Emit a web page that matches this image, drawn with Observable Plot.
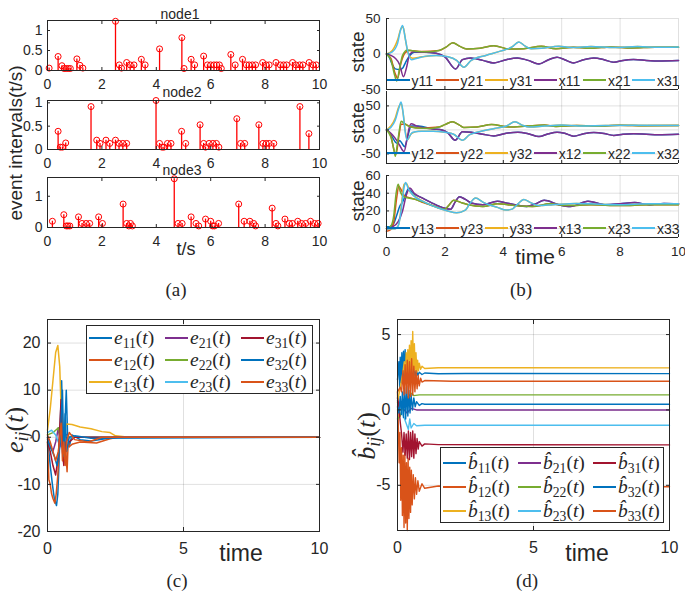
<!DOCTYPE html>
<html><head><meta charset="utf-8">
<script src="https://cdn.jsdelivr.net/npm/d3@7"></script>
<script src="https://cdn.jsdelivr.net/npm/@observablehq/plot@0.6"></script>
<style>
body{margin:0;background:#fff;}
#wrap{position:relative;width:685px;height:595px;overflow:hidden;font-family:"Liberation Sans",Arial,sans-serif;color:#262626;background:#fff;}
.abs{position:absolute;white-space:nowrap;line-height:1;}
.serif{font-family:"Liberation Serif","DejaVu Serif",serif;}
.sub{font-size:0.7em;position:relative;top:0.3em;font-style:normal;}
</style></head><body><div id="wrap"></div>
<script>
// ---------- DATA ----------
const xTicksA = [0, 2, 4, 6, 8, 10];
const xTicksCD = [0, 5, 10];
// (a) event intervals: [time, interval]
const node1Events = [[0.06,0.06],[0.39,0.35],[0.53,0.12],[0.61,0.05],[0.69,0.05],[0.77,0.05],[0.84,0.05],[1.08,0.29],[1.19,0.13],[1.30,0.06],[2.50,1.23],[2.64,0.14],[2.72,0.06],[2.91,0.2],[3.04,0.14],[3.18,0.14],[3.45,0.28],[3.59,0.14],[4.12,0.54],[4.94,0.82],[5.02,0.05],[5.28,0.28],[5.41,0.14],[5.74,0.36],[5.88,0.14],[6.00,0.14],[6.12,0.14],[6.22,0.14],[6.32,0.14],[6.39,0.05],[6.74,0.4],[6.90,0.14],[7.17,0.28],[7.31,0.14],[7.41,0.14],[7.53,0.14],[7.65,0.14],[7.91,0.2],[8.04,0.14],[8.15,0.14],[8.40,0.2],[8.56,0.14],[8.68,0.14],[8.79,0.14],[9.01,0.2],[9.13,0.14],[9.27,0.14],[9.39,0.14],[9.62,0.2],[9.76,0.14],[9.88,0.14]];
const node2Events = [[0.39,0.39],[0.47,0.05],[0.55,0.05],[0.67,0.14],[1.60,0.92],[1.81,0.2],[1.93,0.13],[2.15,0.2],[2.29,0.13],[2.50,0.2],[2.63,0.13],[2.77,0.13],[2.91,0.13],[3.99,1.05],[4.12,0.13],[4.21,0.05],[4.28,0.05],[4.41,0.13],[4.54,0.13],[4.93,0.39],[5.08,0.13],[5.61,0.53],[5.74,0.13],[5.81,0.05],[5.94,0.13],[6.08,0.13],[6.21,0.13],[6.30,0.05],[6.96,0.66],[7.10,0.13],[7.25,0.13],[7.77,0.53],[7.92,0.13],[8.04,0.13],[8.15,0.13],[8.32,0.13],[9.28,0.92],[9.61,0.34]];
const node3Events = [[0.18,0.2],[0.60,0.41],[0.69,0.05],[0.75,0.05],[0.82,0.05],[1.14,0.34],[1.27,0.13],[1.42,0.13],[1.55,0.13],[1.88,0.34],[2.02,0.13],[2.78,0.75],[2.91,0.13],[2.99,0.05],[3.05,0.13],[3.12,0.05],[4.66,1.56],[4.80,0.13],[4.95,0.13],[5.28,0.34],[5.46,0.13],[5.56,0.05],[5.81,0.27],[6.00,0.2],[6.07,0.05],[6.14,0.05],[6.29,0.13],[7.03,0.75],[7.23,0.2],[7.44,0.2],[7.58,0.13],[7.65,0.05],[8.26,0.62],[8.40,0.13],[8.47,0.05],[8.73,0.27],[8.89,0.13],[9.00,0.13],[9.20,0.2],[9.34,0.13],[9.49,0.13],[9.67,0.2],[9.82,0.13],[9.95,0.13]];

// (b) states: [time, value]
const x11 = [[0,0],[0.15,-2],[0.3,-6],[0.45,-15],[0.58,-32],[0.68,-20],[0.8,0],[0.95,3],[1.3,2.5],[1.7,1],[2.0,-4],[2.37,-21],[2.6,-8],[2.88,-5.6],[3.3,-9],[3.68,-12.6],[4.1,-8],[4.48,-5.6],[4.85,-9],[5.22,-14],[5.55,-8],[5.84,-4.7],[6.1,-8],[6.41,-12.6],[6.75,-8],[7.1,-5.6],[7.45,-8],[7.78,-11.7],[8.1,-9],[8.46,-7.9],[8.9,-9],[9.3,-10],[10,-9.3]];
const x21 = [[0,0],[0.15,-8],[0.28,-30],[0.35,-38],[0.45,-20],[0.55,-2],[0.72,5.6],[1.0,4],[1.4,3],[1.8,5],[2.05,10],[2.27,16],[2.5,11],[2.75,7],[3.2,8],[3.68,11.7],[4.2,7],[4.7,7.5],[5.3,11],[5.8,7.5],[6.4,9.5],[7.0,8],[7.7,10],[8.4,8.5],[9.2,9.5],[10,9.5]];
const x31 = [[0,0],[0.2,3],[0.38,15],[0.47,32],[0.55,40],[0.63,25],[0.72,5],[0.85,-8],[1.05,-6],[1.35,-3],[1.7,-2],[2.1,-4],[2.4,-9],[2.65,-18.7],[2.9,-9],[3.4,-2],[3.9,4],[4.3,10],[4.53,17],[4.75,11],[4.95,7.5],[5.3,8],[5.9,11],[6.4,9],[7.0,10.5],[7.8,9],[8.6,10.5],[9.3,9.5],[10,10]];
const y11Head = [[0,0],[0.1,-5],[0.2,-15],[0.3,-21],[0.45,-22],[0.55,-20],[0.65,-12],[0.8,-2],[0.95,2.5],[1.3,2.5]];
const y21Head = [[0,0],[0.15,-6],[0.3,-28],[0.38,-34],[0.5,-12],[0.65,2],[0.8,5],[1.2,3.5]];
const y31Head = [[0,0],[0.2,5],[0.38,20],[0.5,36],[0.57,38],[0.65,20],[0.75,0],[0.9,-6],[1.2,-4]];

const x12 = [[0,0],[0.2,-10],[0.35,-22],[0.45,-32],[0.6,-45],[0.7,-20],[0.78,5],[0.85,13],[1.0,9],[1.3,4],[1.6,2],[1.9,0],[2.1,-6],[2.35,-21.5],[2.6,-4],[2.9,-5],[3.3,-9],[3.68,-12.5],[4.1,-7],[4.5,-5],[4.85,-8],[5.22,-14],[5.55,-8],[5.84,-5],[6.1,-7],[6.41,-13],[6.75,-8],[7.1,-5.5],[7.45,-7.5],[7.78,-11.5],[8.1,-9],[8.46,-8],[8.9,-9],[9.3,-10],[10,-9]];
const x22 = [[0,0],[0.15,-15],[0.25,-40],[0.3,-55],[0.37,-30],[0.43,-5],[0.5,18],[0.6,14],[0.75,8],[1.0,4],[1.5,3],[1.8,6],[2.0,11],[2.25,17],[2.5,10],[2.65,5],[3.1,6],[3.6,11],[4.2,6],[4.8,8],[5.4,10],[5.8,7],[6.5,9],[7.2,8],[8.0,9.5],[8.8,8.5],[10,9]];
const x32 = [[0,0],[0.15,5],[0.3,20],[0.42,45],[0.5,58],[0.57,35],[0.63,0],[0.7,-21],[0.8,-12],[0.9,-5],[1.2,-3],[1.6,-3],[2.0,-5],[2.3,-9],[2.6,-21.5],[2.85,-10],[3.1,-5],[3.7,3],[4.1,8],[4.4,17],[4.65,10],[4.9,6],[5.4,8],[6.0,10],[6.6,8],[7.5,9],[8.5,9.5],[10,9]];
const y12Head = [[0,0],[0.1,-6],[0.2,-15],[0.3,-25],[0.38,-28],[0.45,-22],[0.55,-30],[0.62,-35],[0.72,-15],[0.85,8],[1.1,8]];
const y22Head = [[0,0],[0.15,-12],[0.27,-45],[0.33,-50],[0.42,-15],[0.5,12],[0.62,12],[0.8,7],[1.1,4]];
const y32Head = [[0,0],[0.15,8],[0.3,25],[0.42,48],[0.5,55],[0.58,30],[0.65,-5],[0.72,-20],[0.85,-8],[1.1,-3]];

const x13 = [[0,0],[0.2,2],[0.4,8],[0.55,20],[0.68,38],[0.8,46],[0.95,40],[1.2,35],[1.5,30],[2.0,23],[2.2,22],[2.35,30],[2.5,36],[2.7,33],[2.9,29],[3.3,27],[3.8,31],[4.1,29],[4.4,27],[4.8,25],[5.1,28],[5.4,32],[5.9,27],[6.3,25],[6.9,31],[7.5,27],[8.0,28],[8.5,29.5],[9.0,27],[9.5,28.5],[10,28]];
const x23 = [[0,0],[0.15,3],[0.25,15],[0.33,40],[0.4,50],[0.47,42],[0.6,36],[1.0,33],[1.5,27],[2.0,22],[2.15,27],[2.3,32],[2.6,29],[2.8,27],[3.3,25],[3.8,28],[4.4,26],[5.0,25],[5.6,28],[6.2,26],[7.0,27],[8.0,26],[9.0,27],[10,27]];
const x33 = [[0,0],[0.3,0],[0.4,3],[0.5,20],[0.58,42],[0.65,52],[0.75,45],[0.9,38],[1.3,30],[1.8,23],[2.1,20],[2.4,18],[2.7,21],[2.85,28],[3.05,34.5],[3.3,30],[3.5,27],[3.8,24],[4.1,21],[4.3,22],[4.5,28],[4.7,33],[4.9,30],[5.2,26],[5.7,27],[6.5,28.5],[7.0,28],[8.0,27],[9.0,28],[10,28]];
const y13Head = [[0,2],[0.1,2],[0.25,6],[0.35,15],[0.45,25],[0.55,30],[0.65,38],[0.75,45],[0.9,40],[1.2,35]];
const y23Head = [[0,-3],[0.15,-1],[0.25,8],[0.35,35],[0.42,48],[0.5,44],[0.62,37],[1.0,33],[1.2,30]];
const y33Head = [[0,0],[0.3,0],[0.42,5],[0.52,30],[0.6,50],[0.68,51],[0.8,42],[1.0,36]];

// (c) errors
const e11 = [[0,0],[0.05,-3],[0.1,-6],[0.18,-10],[0.25,-13],[0.33,-14.5],[0.38,-12],[0.42,-6],[0.47,3],[0.52,12],[0.56,2],[0.6,-4],[0.65,4],[0.69,10],[0.74,0],[0.8,-2],[0.9,0.5],[1.2,-0.5],[1.6,-0.8],[2.0,-0.4],[2.5,0],[10,0]];
const e12 = [[0,-1],[0.05,-9],[0.1,-10],[0.15,-12],[0.2,-13],[0.27,-14],[0.32,-12],[0.38,-8],[0.43,-2],[0.48,2],[0.5,8],[0.55,-2],[0.6,-5],[0.65,-1],[0.72,-7.3],[0.76,-1],[0.8,-2],[0.9,-1.5],[1.2,-1],[1.8,-1.2],[2.3,-0.3],[2.6,0],[10,0]];
const e13 = [[0,1.5],[0.1,6],[0.2,12],[0.3,18],[0.38,19.5],[0.45,15],[0.5,6],[0.55,0],[0.6,1],[0.7,2.8],[0.9,2.7],[1.2,2.2],[1.6,1.8],[2.0,1.2],[2.3,1.0],[2.5,0.3],[3,0],[10,0]];
const e21 = [[0,0],[0.1,-2],[0.2,-3],[0.3,-1],[0.4,2],[0.5,-2],[0.6,1],[0.8,0],[10,0]];
const e22 = [[0,0.5],[0.2,1],[0.3,1.5],[0.4,2],[0.5,-1],[0.6,0.5],[0.8,0],[10,0]];
const e23 = [[0,1],[0.15,1.5],[0.3,0.5],[0.4,-1],[0.5,1],[0.7,0],[10,0]];
const e31 = [[0,-1],[0.1,-3],[0.2,-6],[0.3,-8],[0.4,-4],[0.5,8],[0.55,-3],[0.6,-6],[0.7,0],[0.8,-1],[1,0],[10,0]];
const e32 = [[0,-0.5],[0.1,-2],[0.25,-4],[0.35,-6],[0.45,-2],[0.55,10],[0.6,-4],[0.65,5],[0.7,-3],[0.8,0],[1,0.3],[1.6,-0.2],[10,0]];
const e33 = [[0,0.5],[0.1,-1],[0.2,-3],[0.3,-5],[0.4,-3],[0.5,3],[0.55,-5],[0.6,-1],[0.65,-6],[0.7,-1],[0.8,1],[1,-0.5],[1.5,-1],[2,0],[10,0]];

// (d) estimates
const b11 = [[0,2.0],[0.05,3.2],[0.08,1.5],[0.1,3.5],[0.13,1.8],[0.16,3.8],[0.19,2.0],[0.22,3.9],[0.25,2.2],[0.28,4.0],[0.31,2.5],[0.34,3.6],[0.37,1.8],[0.4,3.4],[0.43,2.0],[0.46,3.0],[0.5,2.0],[0.54,2.9],[0.58,2.1],[0.62,2.7],[0.66,2.2],[0.7,2.6],[0.75,2.3],[0.8,2.5],[0.9,2.35],[1.0,2.45],[1.5,2.4],[2.5,2.42],[10,2.41]];
const b12 = [[0,1.2],[0.03,-1.0],[0.06,-3.5],[0.09,-1.5],[0.12,-6.0],[0.15,-2.5],[0.18,-7.0],[0.21,-3.0],[0.24,-7.8],[0.27,-2.8],[0.3,-7.5],[0.33,-3.5],[0.36,-8.0],[0.39,-3.2],[0.42,-7.2],[0.45,-3.8],[0.48,-6.8],[0.51,-4.0],[0.54,-6.3],[0.58,-4.3],[0.62,-5.9],[0.66,-4.5],[0.7,-5.6],[0.75,-4.7],[0.8,-5.4],[0.9,-4.9],[1.0,-5.2],[1.5,-5.05],[10,-5.1]];
const b13 = [[0,0.5],[0.1,1.5],[0.2,2.5],[0.25,3.2],[0.28,2.0],[0.32,3.8],[0.35,2.2],[0.38,4.0],[0.41,2.4],[0.44,4.3],[0.47,2.1],[0.5,4.6],[0.53,2.5],[0.56,5.2],[0.59,2.3],[0.62,4.4],[0.65,2.6],[0.68,3.8],[0.71,2.5],[0.74,3.3],[0.77,2.6],[0.8,3.1],[0.85,2.7],[0.9,2.9],[1.0,2.75],[1.5,2.8],[10,2.79]];
const b21 = [[0,0.6],[0.1,0.3],[0.2,0.1],[0.35,-0.2],[0.5,0.1],[0.7,0],[10,0]];
const b22 = [[0,-0.6],[0.1,-0.4],[0.2,0.2],[0.3,0.7],[0.4,0.9],[0.5,1.1],[0.6,0.95],[0.8,1.0],[10,1.0]];
const b23 = [[0,0],[0.1,0.3],[0.2,-0.3],[0.3,-0.8],[0.4,-1.3],[0.45,-0.6],[0.5,-1.2],[0.6,-0.9],[0.7,-1.05],[1,-1.02],[10,-1.02]];
const b31 = [[0,0.8],[0.05,0.2],[0.1,-0.8],[0.15,-1.6],[0.2,-2.8],[0.24,-1.5],[0.28,-3.0],[0.32,-1.6],[0.36,-3.2],[0.4,-1.4],[0.44,-3.3],[0.48,-1.5],[0.52,-3.1],[0.56,-1.4],[0.6,-3.2],[0.64,-1.6],[0.68,-2.9],[0.72,-1.9],[0.76,-2.6],[0.8,-2.1],[0.9,-2.4],[1.0,-2.25],[1.5,-2.3],[10,-2.32]];
const b32 = [[0,0.2],[0.05,-0.2],[0.1,0.9],[0.14,-0.3],[0.18,1.2],[0.22,-0.5],[0.26,1.5],[0.3,-0.6],[0.34,1.6],[0.38,-0.4],[0.42,1.3],[0.46,-0.2],[0.5,1.0],[0.55,0.0],[0.6,0.8],[0.65,0.2],[0.7,0.55],[0.8,0.3],[0.9,0.42],[1.0,0.38],[10,0.38]];
const b33 = [[0,1.2],[0.1,1.5],[0.15,1.2],[0.2,2.6],[0.24,1.0],[0.28,3.0],[0.32,1.1],[0.36,3.3],[0.4,0.8],[0.44,3.2],[0.48,0.9],[0.52,3.4],[0.56,1.0],[0.6,2.9],[0.64,1.2],[0.68,2.6],[0.72,1.4],[0.76,2.3],[0.8,1.6],[0.85,2.1],[0.9,1.85],[1.0,1.95],[2.0,1.9],[10,1.9]];

const C = {blue:"#0072BD", orange:"#D95319", yellow:"#EDB120", purple:"#7E2F8E", green:"#77AC30", cyan:"#4DBEEE", dred:"#A2142F"};
const AX = "#262626";

// y series coincide with x series after the transient
const tail = (s, t0) => s.filter(p => p[0] > t0);
const y11 = y11Head.concat(tail(x11, 1.5)), y21 = y21Head.concat(tail(x21, 1.5)), y31 = y31Head.concat(tail(x31, 1.5));
const y12 = y12Head.concat(tail(x12, 1.5)), y22 = y22Head.concat(tail(x22, 1.5)), y32 = y32Head.concat(tail(x32, 1.5));
const y13 = y13Head.concat(tail(x13, 1.3)), y23 = y23Head.concat(tail(x23, 1.3)), y33 = y33Head.concat(tail(x33, 1.1));

// ---------- HELPERS ----------
const wrap = document.getElementById("wrap");
function place(node, left, top){ const d=document.createElement("div"); d.style.cssText=`position:absolute;left:${left}px;top:${top}px;`; d.append(node); wrap.append(d); }
function label(html, x, y, o={}){
  const d=document.createElement("div"); d.className="abs"+(o.serif?" serif":""); d.innerHTML=html;
  d.style.left=x+"px"; d.style.top=y+"px"; d.style.fontSize=(o.size||14)+"px";
  if(o.italic) d.style.fontStyle="italic";
  d.style.transform=`translate(${o.left?"0":"-50%"},-50%)${o.rotate?` rotate(${o.rotate}deg)`:""}`;
  wrap.append(d); return d;
}
function panel(o){
  const marks=[];
  if(o.grid){ marks.push(Plot.gridX(o.xTicks,{stroke:"#000",strokeOpacity:0.12}), Plot.gridY(o.yTicks,{stroke:"#000",strokeOpacity:0.12})); }
  marks.push(...o.marks);
  marks.push(Plot.axisX(o.xTicks,{anchor:"bottom",tickSize:0,tickPadding:o.xPad,tickFormat:o.xLabels?(d=>String(d)):(()=>""),label:null,fontSize:o.fs}));
  marks.push(Plot.axisX(o.xTicks,{anchor:"bottom",tickSize:-o.tk,tickFormat:()=>"",label:null}));
  marks.push(Plot.axisY(o.yTicks,{anchor:"left",tickSize:0,tickPadding:o.yPad,tickFormat:d=>String(d),label:null,fontSize:o.fs}));
  marks.push(Plot.axisY(o.yTicks,{anchor:"left",tickSize:-o.tk,tickFormat:()=>"",label:null}));
  if(o.box){
    marks.push(Plot.axisX(o.xTicks,{anchor:"top",tickSize:-o.tk,tickFormat:()=>"",label:null}));
    marks.push(Plot.axisY(o.yTicks,{anchor:"right",tickSize:-o.tk,tickFormat:()=>"",label:null}));
    marks.push(Plot.frame({stroke:AX}));
  } else {
    marks.push(Plot.ruleX([0],{stroke:AX}), Plot.ruleY([o.yDomain[0]],{stroke:AX}));
  }
  const svg = Plot.plot({
    width:o.width, height:o.height,
    marginLeft:o.ml, marginRight:o.mr, marginTop:o.mt, marginBottom:o.mb,
    x:{domain:[0,10]}, y:{domain:o.yDomain},
    style:{background:"transparent",overflow:"visible",color:AX,fontFamily:"Liberation Sans, Arial, sans-serif",fontSize:o.fs+"px",maxWidth:"none"},
    marks
  });
  place(svg, o.left, o.top);
}
const stem = ev => [
  Plot.ruleX(ev,{x:d=>d[0],y1:0,y2:d=>d[1],stroke:"#ff0000",strokeWidth:1.3}),
  Plot.dot(ev,{x:d=>d[0],y:d=>d[1],r:3,stroke:"#ff0000",fill:"none",strokeWidth:1})
];
const ln = (s,c,curve="monotone-x",w=1.5) => Plot.line(s,{x:d=>d[0],y:d=>d[1],stroke:c,strokeWidth:w,curve});

// ---------- PANEL (a) ----------
panel({left:0,top:0,width:330,height:90,ml:47,mr:11,mt:20,mb:20,xTicks:xTicksA,yTicks:[0,0.5,1],yDomain:[0,1.25],box:true,xLabels:true,fs:14,xPad:9,yPad:5,tk:3,marks:stem(node1Events)});
panel({left:0,top:80,width:330,height:90,ml:47,mr:11,mt:20,mb:21,xTicks:xTicksA,yTicks:[0,0.5,1],yDomain:[0,1.05],box:true,xLabels:true,fs:14,xPad:9,yPad:5,tk:3,marks:stem(node2Events)});
panel({left:0,top:157,width:330,height:90,ml:47,mr:11,mt:20,mb:20,xTicks:xTicksA,yTicks:[0,1],yDomain:[0,1.6],box:true,xLabels:true,fs:14,xPad:9,yPad:5,tk:3,marks:stem(node3Events)});

// ---------- PANEL (b) ----------
const bCol=[C.blue,C.orange,C.yellow,C.purple,C.green,C.cyan];
panel({left:335,top:0,width:350,height:100,ml:51,mr:7,mt:18,mb:11,xTicks:xTicksA,yTicks:[-50,0,50],yDomain:[-50,50],grid:true,box:false,xLabels:false,fs:13.5,xPad:9,yPad:6,tk:3,
  marks:[y11,y21,y31,x11,x21,x31].map((s,i)=>ln(s,bCol[i]))});
panel({left:335,top:80,width:350,height:100,ml:51,mr:7,mt:11,mb:17,xTicks:xTicksA,yTicks:[-50,0,50],yDomain:[-70,80],grid:true,box:false,xLabels:false,fs:13.5,xPad:9,yPad:6,tk:3,
  marks:[y12,y22,y32,x12,x22,x32].map((s,i)=>ln(s,bCol[i]))});
panel({left:335,top:160,width:350,height:100,ml:51,mr:7,mt:15,mb:23,xTicks:xTicksA,yTicks:[0,20,40,60],yDomain:[-10,60],grid:true,box:false,xLabels:true,fs:13.5,xPad:9,yPad:6,tk:3,
  marks:[y13,y23,y33,x13,x23,x33].map((s,i)=>ln(s,bCol[i]))});

// ---------- PANEL (c) ----------
const eSeries=[e11,e12,e13,e21,e22,e23,e31,e32,e33];
const nineCol=[C.blue,C.orange,C.yellow,C.purple,C.green,C.cyan,C.dred,C.blue,C.orange];
panel({left:0,top:300,width:330,height:260,ml:47,mr:11,mt:19,mb:29,xTicks:xTicksCD,yTicks:[-20,-10,0,10,20],yDomain:[-20,25],grid:true,box:true,xLabels:true,fs:16,xPad:11,yPad:7,tk:4,
  marks:eSeries.map((s,i)=>ln(s,nineCol[i],"linear",1.5))});

// ---------- PANEL (d) ----------
const bSeries=[b11,b12,b13,b21,b22,b23,b31,b32,b33];
panel({left:340,top:300,width:345,height:260,ml:57,mr:16,mt:19,mb:30,xTicks:xTicksCD,yTicks:[-5,0,5],yDomain:[-8,6],grid:true,box:true,xLabels:true,fs:16,xPad:11,yPad:7,tk:4,
  marks:bSeries.map((s,i)=>ln(s,nineCol[i],"linear",1.4))});

// ---------- TEXT ----------
label("node1",180,14,{size:14});
label("node2",182,92,{size:14});
label("node3",182,170,{size:14});
label("t/s",186,249,{size:18});
label("event intervals(t/s)",15,143,{size:19,rotate:-90});
label("state",357,52,{size:19,rotate:-90});
label("state",357,123,{size:19,rotate:-90});
label("state",357,201,{size:19,rotate:-90});
label("time",535,256,{size:21});
label("time",241,553,{size:23});
label("time",587,553,{size:23});
label("(a)",176,289,{size:19,serif:true});
label("(b)",521,289,{size:19,serif:true});
label("(c)",177,580,{size:19,serif:true});
label("(d)",527,580,{size:19,serif:true});
label(`<i>e</i><span class="sub"><i>ij</i></span>(<i>t</i>)`,15,430,{size:26,serif:true,rotate:-90});
label(`<i>b\u0302</i><span class="sub"><i>ij</i></span>(<i>t</i>)`,367,436,{size:26,serif:true,rotate:-90});

// (b) legends
const bNames=[["y11","y21","y31","x11","x21","x31"],["y12","y22","y32","x12","x22","x32"],["y13","y23","y33","x13","x23","x33"]];
const bRowY=[80,153,228];
bNames.forEach((names,r)=>names.forEach((nm,i)=>{
  const x0=386.5+49.1*i;
  const l=document.createElement("div"); l.className="abs";
  l.style.cssText+=`left:${x0}px;top:${bRowY[r]-1}px;width:23px;height:2px;background:${bCol[i]}`;
  wrap.append(l);
  label(nm,x0+25,bRowY[r]+1,{size:14,left:true});
}));

// (c),(d) legends
function boxLegend(x,y,w,h,names,cols,rows,colX){
  const b=document.createElement("div"); b.className="abs";
  b.style.cssText+=`left:${x}px;top:${y}px;width:${w}px;height:${h}px;border:1px solid ${AX};background:#fff;box-sizing:border-box`;
  wrap.append(b);
  names.forEach((nm,k)=>{
    const c=Math.floor(k/3), r=k%3;
    const l=document.createElement("div"); l.className="abs";
    l.style.cssText+=`left:${colX[c]}px;top:${rows[r]-0.75}px;width:23px;height:1.5px;background:${cols[k]}`;
    wrap.append(l);
    label(nm,colX[c]+25,rows[r],{size:19.5,serif:true,left:true});
  });
}
const eNames=["11","12","13","21","22","23","31","32","33"];
boxLegend(86,325,227,69,eNames.map(s=>`<i>e</i><span class="sub">${s}</span>(<i>t</i>)`),nineCol,[338,360,382],[89,165,241]);
boxLegend(440,447,224,76,eNames.map(s=>`<i>b\u0302</i><span class="sub">${s}</span>(<i>t</i>)`),nineCol,[463,487,511],[443,518,593]);
</script></body></html>
